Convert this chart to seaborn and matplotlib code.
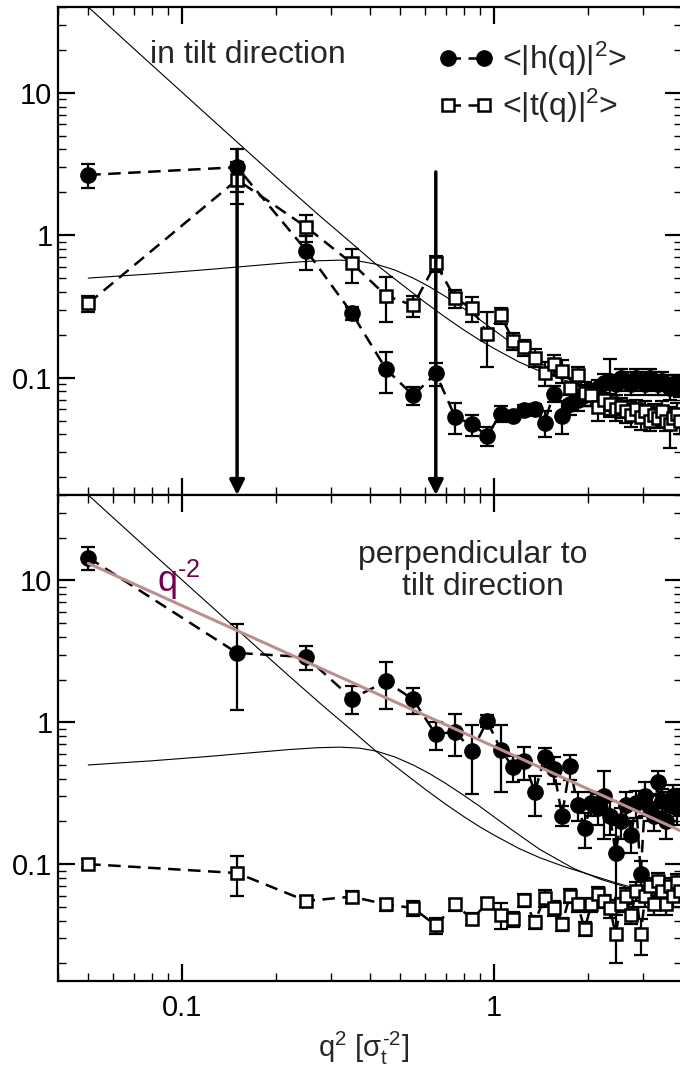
import matplotlib
matplotlib.use("Agg")
import matplotlib.pyplot as plt
import numpy as np
import seaborn as sns
from matplotlib.ticker import FuncFormatter, LogLocator

# q^2 bins (centres)
q2 = [0.05, 0.15, 0.25, 0.35, 0.45, 0.55, 0.65, 0.75, 0.85, 0.95,
      1.05, 1.15, 1.25, 1.35, 1.45, 1.55, 1.65, 1.75, 1.85, 1.95,
      2.05, 2.15, 2.25, 2.35, 2.45, 2.55, 2.65, 2.75, 2.85, 2.95,
      3.05, 3.15, 3.25, 3.35, 3.45, 3.55, 3.65, 3.75, 3.85, 3.95]

# in tilt direction
h_tilt = [2.65, 3.0, 0.78, 0.283, 0.115, 0.075, 0.107, 0.053, 0.047, 0.039,
          0.056, 0.054, 0.059, 0.06, 0.048, 0.077, 0.054, 0.065, 0.07, 0.075,
          0.08, 0.085, 0.092, 0.095, 0.09, 0.1, 0.095, 0.09, 0.1, 0.095,
          0.09, 0.1, 0.095, 0.09, 0.095, 0.09, 0.085, 0.09, 0.09, 0.088]
h_tilt_err = [0.52, 1.0, 0.21, 0.03, 0.037, 0.011, 0.02, 0.013, 0.008, 0.006,
              0.007, 0.004, 0.005, 0.005, 0.01, 0.01, 0.014, 0.01, 0.012, 0.012,
              0.01, 0.012, 0.014, 0.04, 0.015, 0.015, 0.015, 0.015, 0.015, 0.015,
              0.015, 0.015, 0.015, 0.015, 0.015, 0.015, 0.015, 0.015, 0.015, 0.015]
t_tilt = [0.332, 2.45, 1.14, 0.635, 0.377, 0.321, 0.635, 0.36, 0.306, 0.204,
          0.274, 0.182, 0.163, 0.138, 0.108, 0.125, 0.112, 0.085, 0.104, 0.078,
          0.075, 0.062, 0.07, 0.065, 0.06, 0.062, 0.058, 0.055, 0.06, 0.053,
          0.058, 0.05, 0.055, 0.052, 0.058, 0.05, 0.047, 0.052, 0.056, 0.05]
t_tilt_err = [0.043, 0.8, 0.25, 0.17, 0.13, 0.055, 0.08, 0.05, 0.06, 0.085,
              0.035, 0.025, 0.02, 0.02, 0.02, 0.02, 0.02, 0.015, 0.015, 0.015,
              0.012, 0.012, 0.012, 0.012, 0.01, 0.01, 0.01, 0.01, 0.01, 0.01,
              0.01, 0.008, 0.01, 0.008, 0.01, 0.008, 0.015, 0.008, 0.01, 0.01]
# error bars that run below zero (drawn as arrows)
arrow_x = [0.15, 0.65]
arrow_top = [4.0, 2.78]

# perpendicular to tilt direction
h_perp = [14.5, 3.08, 2.88, 1.47, 1.94, 1.45, 0.82, 0.86, 0.63, 1.02,
          0.64, 0.48, 0.53, 0.32, 0.57, 0.47, 0.22, 0.49, 0.26, 0.18,
          0.27, 0.25, 0.3, 0.22, 0.12, 0.2, 0.26, 0.16, 0.27, 0.085,
          0.3, 0.25, 0.22, 0.38, 0.28, 0.2, 0.26, 0.3, 0.25, 0.28]
h_perp_err = [2.7, 1.85, 0.55, 0.32, 0.7, 0.3, 0.18, 0.28, 0.32, 0.1,
              0.32, 0.1, 0.14, 0.1, 0.09, 0.1, 0.035, 0.1, 0.06, 0.05,
              0.05, 0.06, 0.15, 0.06, 0.07, 0.05, 0.06, 0.04, 0.06, 0.02,
              0.08, 0.05, 0.05, 0.07, 0.06, 0.05, 0.06, 0.06, 0.06, 0.06]
t_perp = [0.1, 0.0865, 0.055, 0.059, 0.052, 0.049, 0.037, 0.052, 0.041, 0.053,
          0.044, 0.041, 0.056, 0.039, 0.058, 0.049, 0.038, 0.06, 0.052, 0.035,
          0.052, 0.062, 0.055, 0.049, 0.032, 0.052, 0.06, 0.044, 0.065, 0.032,
          0.06, 0.07, 0.052, 0.076, 0.065, 0.052, 0.07, 0.06, 0.075, 0.065]
t_perp_err = [0.008, 0.027, 0.005, 0.006, 0.005, 0.006, 0.005, 0.005, 0.004, 0.005,
              0.009, 0.005, 0.006, 0.004, 0.008, 0.006, 0.004, 0.007, 0.006, 0.004,
              0.006, 0.007, 0.006, 0.007, 0.012, 0.006, 0.008, 0.006, 0.01, 0.009,
              0.01, 0.01, 0.008, 0.01, 0.01, 0.008, 0.01, 0.01, 0.01, 0.01]

# theory curves (same in both panels)
curve_a_x = [0.05, 0.07, 0.1, 0.13, 0.17, 0.22, 0.28, 0.35, 0.42, 0.5, 0.6, 0.7,
             0.8, 0.9, 1.0, 1.2, 1.4, 1.7, 2.0, 2.4, 2.8, 3.3, 4.0]
curve_a_y = [40, 20.4, 10.06, 5.98, 3.52, 2.12, 1.33, 0.876, 0.62, 0.46, 0.338, 0.264,
             0.216, 0.183, 0.16, 0.129, 0.111, 0.095, 0.085, 0.075, 0.068, 0.062, 0.056]
curve_b_x = [0.05, 0.08, 0.12, 0.17, 0.22, 0.27, 0.32, 0.37, 0.42, 0.48, 0.55, 0.62,
             0.7, 0.8, 0.9, 1.0, 1.15, 1.4, 1.8, 2.2, 2.7, 3.3, 4.0]
curve_b_y = [0.5, 0.535, 0.573, 0.612, 0.642, 0.661, 0.668, 0.657, 0.625, 0.57, 0.5, 0.435,
             0.37, 0.305, 0.255, 0.215, 0.172, 0.127, 0.093, 0.078, 0.068, 0.061, 0.056]
# q^-2 guide line
guide_x = [0.05, 4.0]
guide_y = [13.2, 0.17]

sns.set_style("ticks")
plt.rcParams["font.family"] = ["Liberation Sans", "DejaVu Sans"]
plt.rcParams["mathtext.fontset"] = "custom"
plt.rcParams["mathtext.rm"] = "Liberation Sans"
plt.rcParams["mathtext.it"] = "Liberation Sans"
plt.rcParams["mathtext.sf"] = "Liberation Sans"

W, H = 680, 1074
fig = plt.figure(figsize=(W / 100, H / 100), dpi=100)
ax_top = fig.add_axes([58 / W, (H - 495) / H, 624 / W, 488 / H])
ax_bot = fig.add_axes([58 / W, (H - 981) / H, 624 / W, 486 / H])

DASH = (0, (5, 3))
HY = "\u2010"  # short hyphen, as in the original labels


def draw_series(ax, y, err, filled, label=None):
    ax.errorbar(q2, y, yerr=err, fmt="none", ecolor="black", elinewidth=1.6,
                capsize=5, capthick=1.6, zorder=3)
    if filled:
        sns.lineplot(x=q2, y=y, ax=ax, color="black", linestyle=DASH, linewidth=1.8,
                     marker="o", markersize=11, markerfacecolor="black",
                     markeredgecolor="black", markeredgewidth=1, errorbar=None,
                     label=label, zorder=4)
    else:
        sns.lineplot(x=q2, y=y, ax=ax, color="black", linestyle=DASH, linewidth=1.8,
                     marker="s", markersize=8, markerfacecolor="white",
                     markeredgecolor="black", markeredgewidth=1.8, errorbar=None,
                     label=label, zorder=4)


def style_axes(ax, show_x):
    ax.set_xscale("log")
    ax.set_yscale("log")
    ax.set_xlim(0.04, 4.0)
    ax.set_ylim(0.015, 40)
    ax.xaxis.set_major_locator(LogLocator(base=10, numticks=10))
    ax.xaxis.set_minor_locator(LogLocator(base=10, subs=np.arange(2, 10), numticks=10))
    ax.yaxis.set_major_locator(LogLocator(base=10, numticks=10))
    ax.yaxis.set_minor_locator(LogLocator(base=10, subs=np.arange(2, 10), numticks=10))
    fmt = FuncFormatter(lambda v, p: f"{v:g}")
    ax.xaxis.set_major_formatter(fmt)
    ax.yaxis.set_major_formatter(fmt)
    ax.tick_params(which="both", direction="in", top=True, right=True, colors="black")
    ax.tick_params(which="major", length=12, width=1.6, labelsize=21, pad=9)
    ax.tick_params(which="minor", length=6, width=1.0)
    ax.tick_params(axis="y", which="major", pad=4)
    if not show_x:
        ax.tick_params(axis="x", which="both", labelbottom=False)
    for s in ax.spines.values():
        s.set_linewidth(1.6)
        s.set_color("black")
    ax.set_xlabel("")
    ax.set_ylabel("")


# ---- top panel: in tilt direction
for cx, cy in [(curve_a_x, curve_a_y), (curve_b_x, curve_b_y)]:
    sns.lineplot(x=cx, y=cy, ax=ax_top, color="black", linewidth=0.8, errorbar=None, zorder=2)
draw_series(ax_top, h_tilt, h_tilt_err, True, label=r"<|h(q)|$^2$>")
draw_series(ax_top, t_tilt, t_tilt_err, False, label=r"<|t(q)|$^2$>")
for ax_, at in zip(arrow_x, arrow_top):
    ax_top.annotate("", xy=(ax_, 0.015), xytext=(ax_, at),
                    arrowprops=dict(arrowstyle="-|>,head_length=0.6,head_width=0.3",
                                    lw=2.5, color="black", mutation_scale=15,
                                    shrinkA=0, shrinkB=0), zorder=5)
style_axes(ax_top, show_x=False)
ax_top.text((150 - 58) / 624, (495 - 63) / 488, "in tilt direction", fontsize=23,
            ha="left", va="baseline", transform=ax_top.transAxes)
ax_top.legend(loc="upper left", bbox_to_anchor=((438 - 58) / 624, 0.932), frameon=False,
              fontsize=23, numpoints=2, handlelength=1.75, handletextpad=0.26,
              labelspacing=0.26, borderpad=0, borderaxespad=0)

# ---- bottom panel: perpendicular to tilt direction
for cx, cy in [(curve_a_x, curve_a_y), (curve_b_x, curve_b_y)]:
    sns.lineplot(x=cx, y=cy, ax=ax_bot, color="black", linewidth=0.8, errorbar=None, zorder=2)
draw_series(ax_bot, h_perp, h_perp_err, True)
draw_series(ax_bot, t_perp, t_perp_err, False)
sns.lineplot(x=guide_x, y=guide_y, ax=ax_bot, color="#bc8f8f", linewidth=2.2,
             errorbar=None, zorder=6)
style_axes(ax_bot, show_x=True)
if ax_bot.get_legend() is not None:
    ax_bot.get_legend().remove()
ax_bot.text((157 - 58) / 624, (981 - 592) / 486, "q$^{" + HY + "2}$", fontsize=26,
            color="#720050", ha="left", va="baseline", transform=ax_bot.transAxes)
ax_bot.text((358 - 58) / 624, (981 - 563) / 486, "perpendicular to", fontsize=23,
            ha="left", va="baseline", transform=ax_bot.transAxes)
ax_bot.text((402 - 58) / 624, (981 - 595) / 486, "tilt direction", fontsize=23,
            ha="left", va="baseline", transform=ax_bot.transAxes)

fig.text(364 / W, (H - 1057) / H, r"q$^2$ [$\sigma_t^{" + HY + "2}$]", fontsize=21,
         ha="center", va="baseline")

fig.savefig("out.png", dpi=100)
